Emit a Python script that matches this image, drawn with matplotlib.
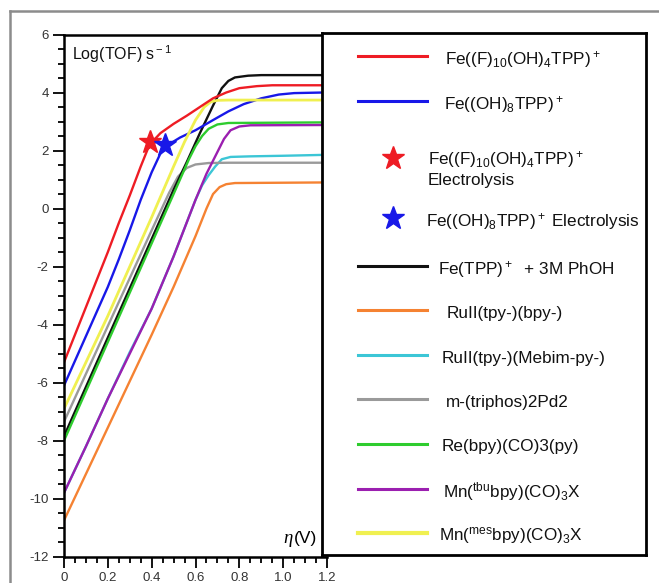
import numpy as np
import matplotlib
matplotlib.use('Agg')
import matplotlib.pyplot as plt
from matplotlib.lines import Line2D

plt.rcParams['font.family'] = ['Liberation Sans', 'DejaVu Sans']
plt.rcParams['mathtext.fontset'] = 'custom'
plt.rcParams['mathtext.rm'] = 'Liberation Sans'
plt.rcParams['mathtext.it'] = 'Liberation Sans'
plt.rcParams['mathtext.sf'] = 'Liberation Sans'
plt.rcParams['mathtext.bf'] = 'Liberation Sans:bold'

# curves (eta in V, log TOF)
red_x = [0, 0.05, 0.10, 0.15, 0.20, 0.25, 0.30, 0.35, 0.39, 0.44, 0.50, 0.56, 0.62, 0.68, 0.74, 0.80, 0.88, 0.95, 1.18]
red_y = [-5.3, -4.35, -3.4, -2.45, -1.5, -0.5, 0.45, 1.45, 2.2, 2.6, 2.92, 3.2, 3.5, 3.8, 4.0, 4.15, 4.22, 4.25, 4.25]
blue_x = [0, 0.05, 0.10, 0.15, 0.20, 0.25, 0.30, 0.35, 0.40, 0.44, 0.48, 0.53, 0.60, 0.68, 0.75, 0.82, 0.90, 0.98, 1.05, 1.18]
blue_y = [-6.1, -5.25, -4.4, -3.55, -2.7, -1.75, -0.75, 0.3, 1.25, 1.9, 2.22, 2.45, 2.7, 3.05, 3.35, 3.6, 3.8, 3.93, 3.98, 4.0]
black_x = [0, 0.10, 0.20, 0.30, 0.40, 0.50, 0.56, 0.62, 0.68, 0.72, 0.75, 0.78, 0.84, 0.90, 1.18]
black_y = [-7.85, -6.15, -4.45, -2.75, -1.05, 0.65, 1.6, 2.6, 3.55, 4.15, 4.4, 4.52, 4.58, 4.6, 4.6]
orange_x = [0, 0.10, 0.20, 0.30, 0.40, 0.50, 0.60, 0.65, 0.68, 0.71, 0.74, 0.78, 1.18]
orange_y = [-10.75, -9.15, -7.55, -5.95, -4.35, -2.7, -0.95, 0.0, 0.5, 0.74, 0.84, 0.88, 0.9]
cyan_x = [0, 0.10, 0.20, 0.30, 0.40, 0.50, 0.60, 0.63, 0.66, 0.69, 0.72, 0.76, 0.85, 1.0, 1.18]
cyan_y = [-9.8, -8.2, -6.55, -4.95, -3.45, -1.65, 0.3, 0.8, 1.15, 1.45, 1.7, 1.78, 1.8, 1.82, 1.85]
gray_x = [0, 0.10, 0.20, 0.30, 0.40, 0.48, 0.52, 0.56, 0.60, 0.66, 0.75, 1.18]
gray_y = [-7.35, -5.7, -4.05, -2.4, -0.75, 0.55, 1.1, 1.4, 1.52, 1.57, 1.58, 1.58]
green_x = [0, 0.10, 0.20, 0.30, 0.40, 0.50, 0.57, 0.60, 0.63, 0.66, 0.70, 0.75, 1.18]
green_y = [-8.0, -6.3, -4.6, -2.9, -1.2, 0.5, 1.7, 2.15, 2.5, 2.75, 2.9, 2.95, 2.97]
purple_x = [0, 0.10, 0.20, 0.30, 0.40, 0.50, 0.60, 0.65, 0.70, 0.73, 0.76, 0.80, 0.85, 1.18]
purple_y = [-9.8, -8.2, -6.55, -5.0, -3.45, -1.65, 0.3, 1.2, 1.95, 2.4, 2.7, 2.83, 2.87, 2.88]
yellow_x = [0, 0.10, 0.20, 0.30, 0.40, 0.50, 0.55, 0.60, 0.64, 0.67, 0.70, 0.75, 1.18]
yellow_y = [-6.9, -5.3, -3.7, -2.0, -0.3, 1.45, 2.3, 3.05, 3.5, 3.68, 3.73, 3.74, 3.74]

# bulk electrolysis points
star_red = (0.392, 2.31)
star_blue = (0.461, 2.2)

xticks = [0, 0.2, 0.4, 0.6, 0.8, 1.0, 1.2]
xtick_labels = ['0', '0.2', '0.4', '0.6', '0.8', '1.0', '1.2']
yticks = [6, 4, 2, 0, -2, -4, -6, -8, -10, -12]
ytick_labels = ['6', '4', '2', '0', '-2', '-4', '-6', '-8', '-10', '-12']

labels = [r'Fe((F)$_{10}$(OH)$_4$TPP)$^+$',
          r'Fe((OH)$_8$TPP)$^+$',
          r'Fe((F)$_{10}$(OH)$_4$TPP)$^+$' + '\nElectrolysis',
          r'Fe((OH)$_8$TPP)$^+$ Electrolysis',
          r'Fe(TPP)$^+$  + 3M PhOH',
          'RuII(tpy-)(bpy-)',
          'RuII(tpy-)(Mebim-py-)',
          'm-(triphos)2Pd2',
          'Re(bpy)(CO)3(py)',
          r'Mn($^{\rm tbu}$bpy)(CO)$_3$X',
          r'Mn($^{\rm mes}$bpy)(CO)$_3$X']

c_red = '#ee1c24'
c_blue = '#1818e8'
c_black = '#111111'
c_orange = '#f58232'
c_cyan = '#3cc6d6'
c_gray = '#9a9a9a'
c_green = '#2ecc2e'
c_purple = '#9b1fb0'
c_yellow = '#f0f050'

W, H = 659, 583
fig = plt.figure(figsize=(W/100, H/100), dpi=100)

ax = fig.add_axes([64/W, 1-556.7/H, (327-64)/W, (556.7-34.5)/H])
lw = 1.7
ax.plot(cyan_x, cyan_y, color=c_cyan, lw=lw)
ax.plot(orange_x, orange_y, color=c_orange, lw=lw)
ax.plot(gray_x, gray_y, color=c_gray, lw=lw)
ax.plot(black_x, black_y, color=c_black, lw=lw)
ax.plot(green_x, green_y, color=c_green, lw=lw)
ax.plot(purple_x, purple_y, color=c_purple, lw=lw)
ax.plot(blue_x, blue_y, color=c_blue, lw=lw)
ax.plot(yellow_x, yellow_y, color=c_yellow, lw=lw+0.3)
ax.plot(red_x, red_y, color=c_red, lw=lw)
ax.plot(*star_red, '*', color=c_red, ms=17, mec=c_red)
ax.plot(*star_blue, '*', color=c_blue, ms=17, mec=c_blue)

ax.set_xlim(0, 1.2)
ax.set_ylim(-12, 6)
ax.set_xticks(xticks)
ax.set_xticklabels(xtick_labels)
ax.set_yticks(yticks)
ax.set_yticklabels(ytick_labels)
ax.set_xticks(np.arange(0, 1.21, 0.05), minor=True)
ax.set_yticks(np.arange(-12, 6.1, 0.5), minor=True)
ax.tick_params(which='major', direction='out', length=8, width=1.3, color='black',
               labelsize=9.5, labelcolor='#333333', pad=3)
ax.tick_params(which='minor', direction='out', length=4.5, width=1.3, color='black')
for s in ['left', 'bottom', 'top']:
    ax.spines[s].set_linewidth(1.8)
    ax.spines[s].set_color('black')
ax.spines['right'].set_visible(False)

ax.text(0.03, 0.962, r'Log(TOF) s$^{\rm -1}$', transform=ax.transAxes, fontsize=11.5,
        va='center', ha='left', color='#111111')
ax.text(0.835, 0.035, 'η', transform=ax.transAxes, fontsize=13.5, family='Liberation Serif',
        style='italic', va='center', ha='left')
ax.text(0.873, 0.035, '(V)', transform=ax.transAxes, fontsize=12.5, va='center', ha='left')

# legend box drawn by hand (uneven spacing in the original)
lax = fig.add_axes([322/W, 1-555/H, (646-322)/W, (555-33)/H])
lax.set_xlim(0, 324)
lax.set_ylim(522, 0)
lax.set_xticks([])
lax.set_yticks([])
for s in lax.spines.values():
    s.set_linewidth(2)
    s.set_color('black')

entries = [('line', c_red, 23, 123),
           ('line', c_blue, 68, 122),
           ('star', c_red, 125, 106),
           ('star', c_blue, 185, 104),
           ('line', c_black, 233, 116),
           ('line', c_orange, 277, 125),
           ('line', c_cyan, 322, 120),
           ('line', c_gray, 366, 124),
           ('line', c_green, 411, 120),
           ('line', c_purple, 456, 121),
           ('line', c_yellow, 500, 117)]
fs = 12.3
for (kind, col, yy, tx), lab in zip(entries, labels):
    if kind == 'line':
        lax.plot([36, 105], [yy, yy], color=col, lw=2.2 if col != c_yellow else 3)
    else:
        lax.plot(71, yy, '*', color=col, ms=17)
    if '\n' in lab:
        first, second = lab.split('\n')
        lax.text(tx, yy + 1, first, fontsize=fs, va='center', ha='left', color='#111111')
        lax.text(tx, yy + 22, second, fontsize=fs, va='center', ha='left', color='#111111')
    else:
        lax.text(tx, yy + 3, lab, fontsize=fs, va='center', ha='left', color='#111111')

# grey frame from the source figure
fig.add_artist(Line2D([10/W, 10/W], [0, 1-11/H], color='#8c8c8c', lw=1.8))
fig.add_artist(Line2D([10/W, 1], [1-11/H, 1-11/H], color='#8c8c8c', lw=1.8))

plt.savefig('out.png', dpi=100)
